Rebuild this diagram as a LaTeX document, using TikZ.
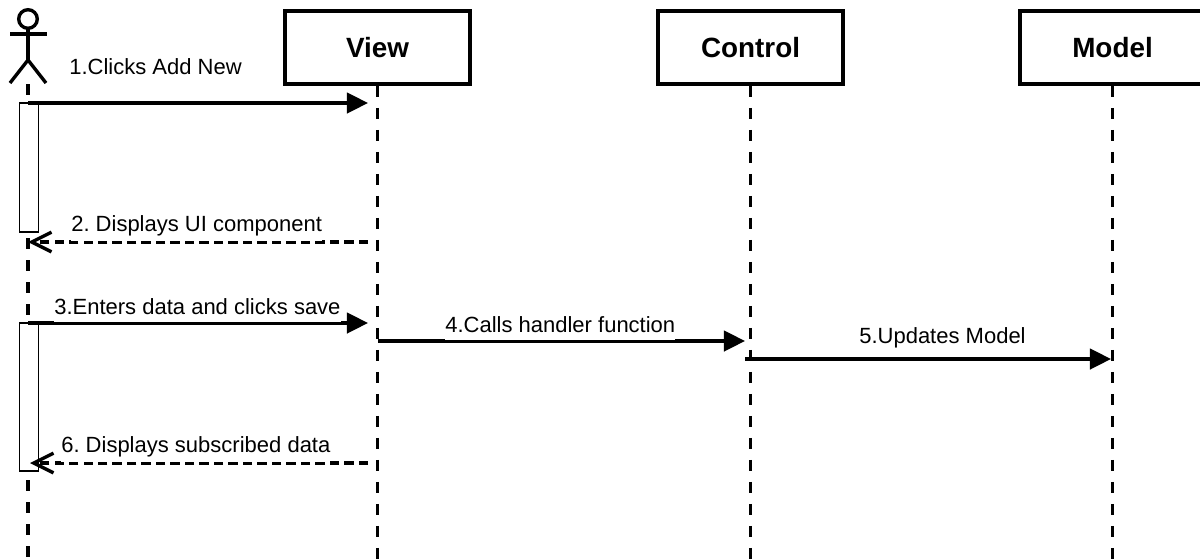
\documentclass[tikz,border=0pt]{standalone}
\usepackage{fontspec}
\setmainfont{Liberation Sans}
\usetikzlibrary{arrows.meta}
\frenchspacing
\begin{document}
\begin{tikzpicture}[x=0.025cm,y=-0.025cm,
  headbox/.style={draw,line width=2.5pt,minimum width=4.625cm,minimum height=1.825cm,inner sep=0pt,font=\bfseries\fontsize{19.8}{23}\selectfont},
  lifeline/.style={line width=2.4pt,dash pattern=on 7.8pt off 7.85pt},
  actorline/.style={line width=2.4pt},
  msg/.style={line width=2.4pt,-{Triangle[length=15pt,width=14.5pt]}},
  back/.style={line width=2.4pt,dash pattern=on 6.6pt off 3.7pt,-{Straight Barb[length=14pt,width=14pt,line width=2.4pt]}},
  label/.style={font=\fontsize{15.65}{18}\selectfont,inner sep=0pt,minimum height=0.74cm,fill=white},
  activation/.style={draw,line width=1.4pt,fill=white,minimum width=0.475cm,inner sep=0pt}]
\useasboundingbox (0,0) rectangle (1200,559);

% heads
\node[headbox] (view) at (377.5,47.5) {View};
\node[headbox] (control) at (750.5,47.5) {Control};
\node[headbox] (model) at (1112.5,47.5) {Model};
\coordinate (actor) at (28,84);
\coordinate (viewEnd) at (377.5,559);
\coordinate (controlEnd) at (750.5,559);
\coordinate (modelEnd) at (1112.5,559);
\coordinate (actorEnd) at (28,559);

% lifelines
\draw[lifeline] (view.south) -- (viewEnd);
\draw[lifeline] (control.south) -- (controlEnd);
\draw[lifeline] (model.south) -- (modelEnd);
\draw[lifeline] (actor) -- (actorEnd);

% actor
\draw[actorline] (28,19) circle (9.3);
\draw[actorline] (28,28) -- (28,60);
\draw[actorline] (10,34) -- (46.5,34);
\draw[actorline] (10,83) -- (28,60) -- (46,83);

% activations
\node[activation,minimum height=3.225cm] (barOne) at (29,167.5) {};
\node[activation,minimum height=3.7cm] (barTwo) at (29,397) {};

% messages
\coordinate (a1) at (28,103);
\coordinate (v1) at (368,103);
\draw[msg] (a1) -- (v1);
\coordinate (v2) at (368,242);
\coordinate (a2) at (28,242);
\draw[back] (v2) -- (a2);
\coordinate (a3) at (28,323);
\coordinate (v3) at (368,323);
\draw[msg] (a3) -- (v3);
\coordinate (v4) at (378,341);
\coordinate (c4) at (745,341);
\draw[msg] (v4) -- (c4);
\coordinate (c5) at (745,359);
\coordinate (m5) at (1111,359);
\draw[msg] (c5) -- (m5);
\coordinate (v6) at (368,463);
\coordinate (a6) at (30,463);
\draw[back] (v6) -- (a6);

% labels
\node[label,anchor=west] (l1) at (69,67) {1.Clicks Add New};
\node[label,anchor=west] (l2) at (71,226) {2. Displays UI component};
\node[label,anchor=west] (l3) at (54,307) {3.Enters data and clicks save};
\node[label,anchor=west] (l4) at (445,325) {4.Calls handler function};
\node[label,anchor=west] (l5) at (859,338) {5.Updates Model};
\node[label,anchor=west] (l6) at (61,447) {6. Displays subscribed data};

\end{tikzpicture}
\end{document}
